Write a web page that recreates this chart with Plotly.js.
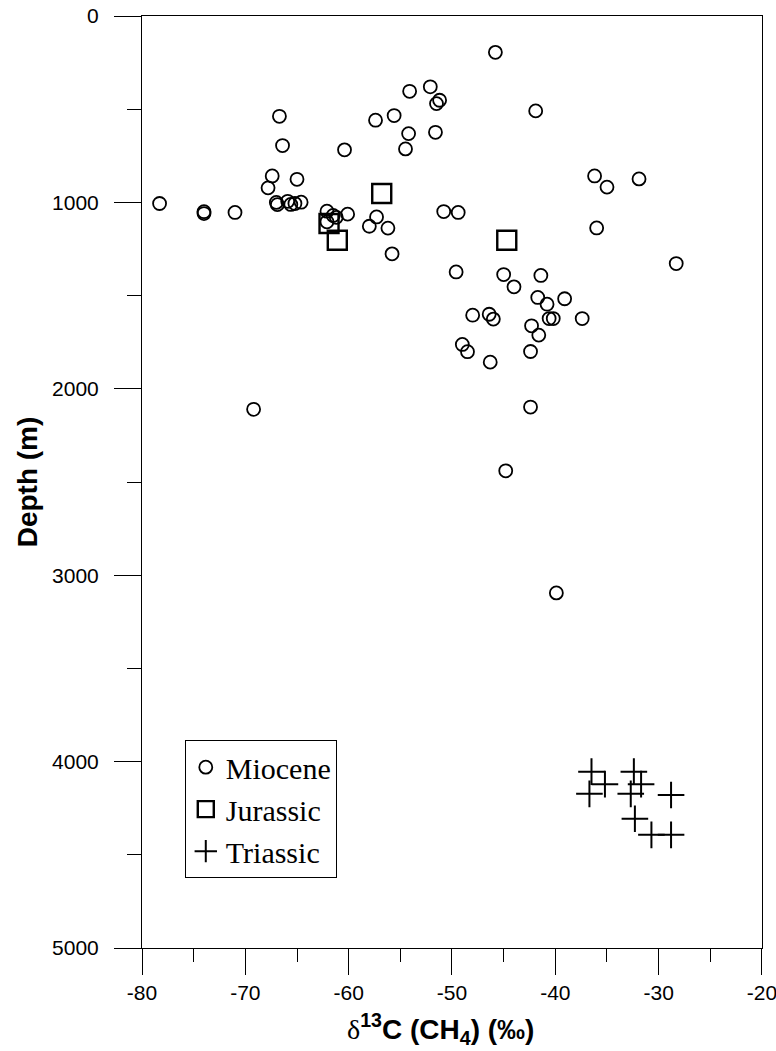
<!DOCTYPE html>
<html>
<head>
<meta charset="utf-8">
<script src="https://cdn.plot.ly/plotly-3.0.1.min.js"></script>
<style>html,body{margin:0;padding:0;background:#fff;}#chart{width:776px;height:1051px;}</style>
</head>
<body>
<div id="chart"></div>
<script>
// Miocene samples: delta13C (permil) and depth (m)
const mioceneD13C = [-66.7,-66.4,-60.4,-57.4,-55.6,-54.1,-54.2,-54.5,-52.1,-51.2,-51.5,-51.6,-45.8,-41.9,
  -67.4,-65.0,-67.8,-78.3,-74.0,-74.0,-71.0,-67.0,-66.9,-65.9,-65.6,-65.2,-64.6,-62.1,-61.5,-61.2,-60.1,-62.1,
  -57.3,-58.0,-56.2,-55.8,-69.2,-50.8,
  -36.2,-35.0,-31.9,-49.4,-36.0,-28.3,-49.6,-45.0,-41.4,-44.0,-41.7,-40.8,-39.1,-48.0,-46.4,-46.0,-40.6,-40.2,
  -37.4,-42.3,-41.6,-49.0,-48.5,-42.4,-46.3,-42.4,-44.8,-39.9];
const mioceneDepth = [538,695,718,559,534,404,631,713,380,452,470,624,195,509,
  858,876,922,1006,1050,1060,1054,1000,1012,994,1011,1006,999,1047,1070,1080,1063,1104,
  1078,1128,1138,1276,2110,1049,
  858,918,874,1054,1137,1328,1373,1387,1392,1453,1510,1546,1517,1605,1600,1626,1623,1623,
  1623,1662,1712,1762,1801,1800,1857,2098,2440,3095];

// Jurassic samples
const jurassicD13C = [-61.9,-61.1,-56.8,-44.7];
const jurassicDepth = [1113,1203,952,1203];

// Triassic samples
const triassicD13C = [-36.5,-32.4,-35.2,-31.7,-36.7,-32.7,-28.8,-32.3,-30.7,-28.8];
const triassicDepth = [4054,4054,4121,4121,4173,4173,4179,4307,4393,4393];

const seriesNames = ["Miocene","Jurassic","Triassic"];

// Tick labels
const xTickVals = [-80,-70,-60,-50,-40,-30,-20];
const xTickText = ["-80","-70","-60","-50","-40","-30","-20"];
const yTickVals = [0,1000,2000,3000,4000,5000];
const yTickText = ["0","1000","2000","3000","4000","5000"];

const traces = [
  {x: mioceneD13C, y: mioceneDepth, name: seriesNames[0], type: 'scatter', mode: 'markers',
   marker: {symbol: 'circle-open', size: 13, color: '#000', line: {width: 1.8, color: '#000'}}},
  {x: jurassicD13C, y: jurassicDepth, name: seriesNames[1], type: 'scatter', mode: 'markers',
   marker: {symbol: 'square-open', size: 19, color: '#000', line: {width: 2.4, color: '#000'}}},
  {x: triassicD13C, y: triassicDepth, name: seriesNames[2], type: 'scatter', mode: 'markers',
   marker: {symbol: 'cross-thin-open', size: 19, color: '#000', line: {width: 2, color: '#000'}}}
];

const axisFont = {family: 'Liberation Sans, Arial, sans-serif', size: 21, color: '#000'};

const layout = {
  width: 776, height: 1051,
  margin: {l: 142, r: 14, t: 16, b: 103},
  paper_bgcolor: '#fff', plot_bgcolor: '#fff',
  showlegend: true,
  legend: {x: 0.069, y: 0.223, xanchor: 'left', yanchor: 'top',
    bgcolor: '#fff', bordercolor: '#000', borderwidth: 1,
    font: {family: 'Liberation Serif, Times New Roman, serif', size: 30, color: '#000'},
    itemsizing: 'trace'},
  xaxis: {
    range: [-80, -19.999],
    tickmode: 'array', tickvals: xTickVals, ticktext: xTickText,
    ticklabeloverflow: 'allow',
    showgrid: false, zeroline: false,
    showline: true, linecolor: '#000', linewidth: 1, mirror: true,
    ticks: 'outside', ticklen: 26, tickwidth: 1, tickcolor: '#000',
    minor: {dtick: 5, tick0: -80, ticks: 'outside', ticklen: 13, tickwidth: 1, tickcolor: '#000', showgrid: false},
    tickfont: axisFont
  },
  yaxis: {
    range: [5000, 0],
    tickmode: 'array', tickvals: yTickVals, ticktext: yTickText,
    ticklabelstandoff: 11,
    showgrid: false, zeroline: false,
    showline: true, linecolor: '#000', linewidth: 1, mirror: true,
    ticks: 'outside', ticklen: 27, tickwidth: 1, tickcolor: '#000',
    minor: {dtick: 500, tick0: 0, ticks: 'outside', ticklen: 14, tickwidth: 1, tickcolor: '#000', showgrid: false},
    tickfont: axisFont,
    title: {text: 'Depth (m)', font: {family: 'Liberation Sans, Arial, sans-serif', size: 28, color: '#000', weight: 'bold'}, standoff: 6}
  },
  annotations: [{
    xref: 'paper', yref: 'paper', x: 0.482, y: 0, xanchor: 'center', yanchor: 'middle', yshift: -81,
    showarrow: false,
    text: '<span style="font-family:Liberation Serif;font-weight:normal">δ</span><sup>13</sup>C (CH<sub>4</sub>) (‰)',
    font: {family: 'Liberation Sans, Arial, sans-serif', size: 28, color: '#000', weight: 'bold'}
  }]
};

Plotly.newPlot('chart', traces, layout, {displayModeBar: false, staticPlot: true});
</script>
</body>
</html>
